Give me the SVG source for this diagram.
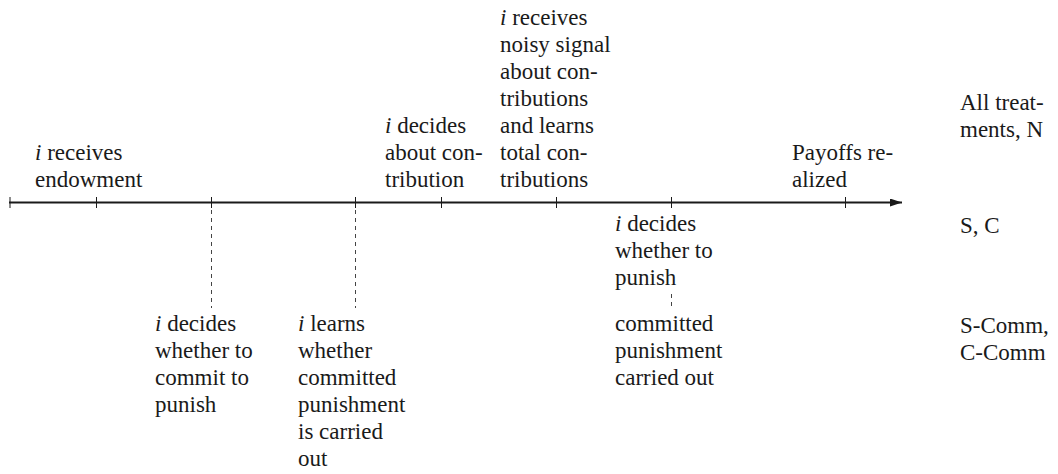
<svg xmlns="http://www.w3.org/2000/svg" width="1058" height="474" viewBox="0 0 1058 474" font-family="'Liberation Serif', 'DejaVu Serif', serif">
<style>
  .lbl { font-family: 'Liberation Serif', 'DejaVu Serif', serif; font-size: 23px; fill: #1a1a1a; }
  .it { font-style: italic; }
  .axis { stroke: #1a1a1a; stroke-width: 1.8; fill: none; }
  .tick { stroke: #1a1a1a; stroke-width: 1; }
  .dash { stroke: #444; stroke-width: 1; stroke-dasharray: 4 4; fill: none; }
</style>
<defs>
  <marker id="arrow" viewBox="0 0 12 8" refX="12" refY="4" markerWidth="12" markerHeight="8" markerUnits="userSpaceOnUse" orient="auto">
    <path d="M0,0 L12,4 L0,8 Z" fill="#1a1a1a"/>
  </marker>
</defs>
<rect width="1058" height="474" fill="#ffffff"/>
<g id="connectors">
  <line class="axis" x1="9" y1="202.5" x2="902" y2="202.5" marker-end="url(#arrow)"/>
  <line class="tick" x1="10" y1="197" x2="10" y2="208"/>
  <line class="tick" x1="96.5" y1="197" x2="96.5" y2="208"/>
  <line class="tick" x1="211.5" y1="197" x2="211.5" y2="208"/>
  <line class="tick" x1="355.5" y1="197" x2="355.5" y2="208"/>
  <line class="tick" x1="441.5" y1="197" x2="441.5" y2="208"/>
  <line class="tick" x1="556.5" y1="197" x2="556.5" y2="208"/>
  <line class="tick" x1="671.5" y1="197" x2="671.5" y2="208"/>
  <line class="tick" x1="845.5" y1="197" x2="845.5" y2="208"/>
  <line class="dash" x1="211.5" y1="210" x2="211.5" y2="308"/>
  <line class="dash" x1="355.5" y1="210" x2="355.5" y2="308"/>
  <line class="dash" x1="671.5" y1="294" x2="671.5" y2="308"/>
</g>
<g id="n-endowment" class="lbl">
  <text x="35" y="160"><tspan class="it">i</tspan> receives</text>
  <text x="35" y="187">endowment</text>
</g>
<g id="n-contribution" class="lbl">
  <text x="385" y="133"><tspan class="it">i</tspan> decides</text>
  <text x="385" y="160">about con-</text>
  <text x="385" y="187">tribution</text>
</g>
<g id="n-signal" class="lbl">
  <text x="500" y="25"><tspan class="it">i</tspan> receives</text>
  <text x="500" y="52">noisy signal</text>
  <text x="500" y="79">about con-</text>
  <text x="500" y="106">tributions</text>
  <text x="500" y="133">and learns</text>
  <text x="500" y="160">total con-</text>
  <text x="500" y="187">tributions</text>
</g>
<g id="n-payoffs" class="lbl">
  <text x="792" y="160">Payoffs re-</text>
  <text x="792" y="187">alized</text>
</g>
<g id="n-punish" class="lbl">
  <text x="615" y="231"><tspan class="it">i</tspan> decides</text>
  <text x="615" y="258">whether to</text>
  <text x="615" y="285">punish</text>
</g>
<g id="n-commit" class="lbl">
  <text x="155" y="331"><tspan class="it">i</tspan> decides</text>
  <text x="155" y="358">whether to</text>
  <text x="155" y="385">commit to</text>
  <text x="155" y="412">punish</text>
</g>
<g id="n-learns" class="lbl">
  <text x="298" y="331"><tspan class="it">i</tspan> learns</text>
  <text x="298" y="358">whether</text>
  <text x="298" y="385">committed</text>
  <text x="298" y="412">punishment</text>
  <text x="298" y="439">is carried</text>
  <text x="298" y="466">out</text>
</g>
<g id="n-carried" class="lbl">
  <text x="615" y="331">committed</text>
  <text x="615" y="358">punishment</text>
  <text x="615" y="385">carried out</text>
</g>
<g id="row-all" class="lbl">
  <text x="960" y="110">All treat-</text>
  <text x="960" y="137">ments, N</text>
</g>
<g id="row-sc" class="lbl">
  <text x="960" y="233">S, C</text>
</g>
<g id="row-comm" class="lbl">
  <text x="960" y="333">S-Comm,</text>
  <text x="960" y="360">C-Comm</text>
</g>
</svg>
